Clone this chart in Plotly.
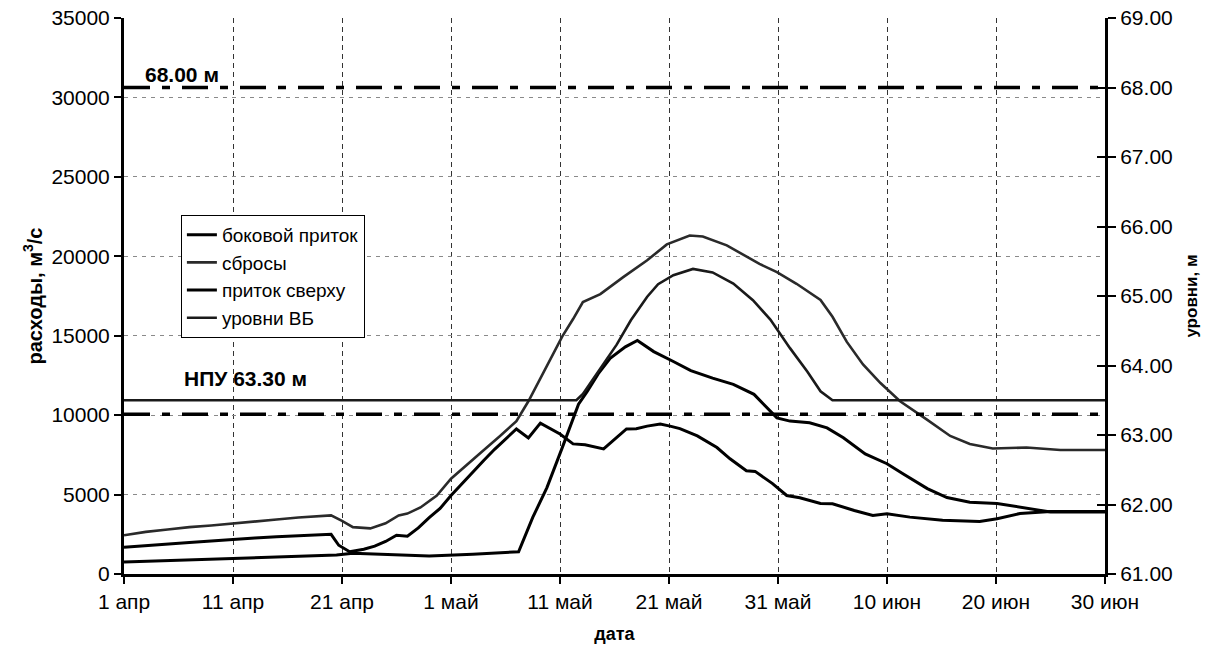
import pandas as pd
import plotly.graph_objects as go

# день от 1 апреля
start = pd.Timestamp("2010-04-01")

tick_days = [0, 10, 20, 30, 40, 50, 60, 70, 80, 90]
tick_text = ["1 апр", "11 апр", "21 апр", "1 май", "11 май", "21 май",
             "31 май", "10 июн", "20 июн", "30 июн"]

# боковой приток, м3/с
side_days = [0, 2, 4, 6, 8, 10, 12, 14, 16, 18, 19, 19.7, 20.7, 22, 23, 24, 25, 26, 27, 28,
             29, 30, 31, 32, 33, 34, 35, 36, 37.1, 38.2, 40, 41.2, 42.3, 44, 46.1, 47, 48, 49.2,
             50.1, 51, 52.6, 54.4, 55.6, 57.1, 57.9, 59.5, 60.8, 62, 63.9, 65, 67, 68.7, 70,
             72.1, 75.1, 78.5, 80.1, 82.2, 85, 90]
side_flow = [1690, 1800, 1900, 1980, 2080, 2190, 2270, 2350, 2420, 2480, 2500, 1810, 1400, 1560,
             1750, 2050, 2440, 2380, 2900, 3550, 4130, 4940, 5700, 6450, 7150, 7850, 8500, 9130,
             8560, 9500, 8810, 8190, 8130, 7870, 9130, 9150, 9310, 9440, 9310, 9150, 8690, 7960,
             7250, 6500, 6460, 5690, 4940, 4800, 4440, 4420, 4000, 3690, 3790, 3580, 3380, 3310,
             3480, 3810, 3940, 3940]

# сбросы, м3/с
dis_days = [0, 2, 4, 6, 8, 10, 12, 14, 16, 18, 19, 20, 21, 22.6, 24, 25.2, 26, 27.2, 28.7, 30,
            31.3, 32.7, 34.5, 36, 37.1, 38.5, 40.2, 41.2, 42.1, 43.7, 45.8, 48, 49.8, 51.9, 53.1,
            55.3, 57.2, 58.3, 59.9, 61.7, 63.9, 65, 66.3, 67.8, 69.4, 71.2, 73.6, 75.8, 77.6,
            79.7, 82.8, 85.9, 90]
dis_flow = [2440, 2650, 2800, 2950, 3050, 3190, 3300, 3430, 3560, 3660, 3690, 3350, 2950, 2870,
            3190, 3690, 3800, 4190, 4940, 6000, 6800, 7620, 8690, 9620, 10875, 12700, 14940,
            16050, 17120, 17620, 18690, 19750, 20750, 21310, 21250, 20690, 19940, 19520, 19000,
            18270, 17250, 16190, 14625, 13190, 12020, 10875, 9750, 8690, 8190, 7900, 7960, 7810,
            7810]

# приток сверху, м3/с
up_days = [0, 5, 10, 15, 19.5, 21, 23, 28, 32, 36.2, 37.5, 38.8, 40.2, 41.1, 41.7, 42.5, 43.5,
           44.6, 46, 47.1, 48.6, 50.4, 52, 54, 55.9, 57.8, 59, 59.9, 61.1, 62.9, 64.5, 66, 68,
           70, 71.5, 73.7, 75.5, 77.6, 80.1, 82.8, 85, 90]
up_flow = [750, 870, 1000, 1100, 1190, 1310, 1250, 1130, 1250, 1400, 3560, 5440, 7940, 9625,
           10690, 11500, 12600, 13580, 14300, 14700, 14000, 13375, 12800, 12330, 11940, 11310,
           10460, 9830, 9625, 9520, 9200, 8580, 7560, 6940, 6300, 5375, 4810, 4520, 4440, 4150,
           3900, 3900]

# уровни ВБ, м
lvl_days = [0, 41.5, 42.1, 43, 44, 45.2, 46.5, 48, 49, 50.4, 52.2, 54, 55.9, 57.7, 59.3, 61.1,
            62.7, 63.9, 65, 90]
lvl = [63.5, 63.5, 63.59, 63.8, 64.03, 64.3, 64.65, 64.99, 65.17, 65.3, 65.39, 65.34, 65.18,
       64.94, 64.66, 64.25, 63.91, 63.63, 63.5, 63.5]

# отметки
mark_levels = [68.00, 63.30]
mark_labels = ["68.00 м", "НПУ 63.30 м"]


def dates(days):
    return start + pd.to_timedelta(days, unit="D")


FONT = "Liberation Sans, Arial, sans-serif"

fig = go.Figure()

fig.add_trace(go.Scatter(x=dates(side_days), y=side_flow, mode="lines", name="боковой приток",
                         line=dict(color="black", width=3)))
fig.add_trace(go.Scatter(x=dates(dis_days), y=dis_flow, mode="lines", name="сбросы",
                         line=dict(color="#2a2a2a", width=2.6)))
fig.add_trace(go.Scatter(x=dates(up_days), y=up_flow, mode="lines", name="приток сверху",
                         line=dict(color="black", width=3)))
fig.add_trace(go.Scatter(x=dates(lvl_days), y=lvl, mode="lines", name="уровни ВБ",
                         yaxis="y2", line=dict(color="#1a1a1a", width=2.6)))

# пунктирные отметки 68.00 и НПУ
for lv in mark_levels:
    fig.add_trace(go.Scatter(x=dates([0, 90]), y=[lv, lv], mode="lines", yaxis="y3",
                             showlegend=False, hoverinfo="skip",
                             line=dict(color="black", width=3.5, dash="26px,12px,8px,12px")))

fig.add_annotation(x=0.019, xref="paper", y=mark_levels[0], yref="y2",
                   text="<b>" + mark_labels[0] + "</b>",
                   showarrow=False, xanchor="left", yanchor="bottom", yshift=0,
                   font=dict(size=21))
fig.add_annotation(x=0.059, xref="paper", y=mark_levels[1], yref="y2",
                   text="<b>" + mark_labels[1] + "</b>",
                   showarrow=False, xanchor="left", yanchor="bottom", yshift=22,
                   font=dict(size=21))

tick_dates = dates(tick_days)

fig.update_layout(
    width=1202, height=646,
    margin=dict(l=116, r=105, t=10, b=80),
    plot_bgcolor="white", paper_bgcolor="white",
    font=dict(family=FONT, size=21, color="black"),
    showlegend=True,
    legend=dict(x=0.058, y=0.646, xanchor="left", yanchor="top",
                bgcolor="white", bordercolor="black", borderwidth=1,
                font=dict(size=19), tracegroupgap=0, itemwidth=30),
    xaxis=dict(type="date", range=[tick_dates[0], tick_dates[-1]],
               tickmode="array", tickvals=tick_dates, ticktext=tick_text,
               ticks="outside", ticklen=7, tickwidth=2, tickcolor="black",
               showline=True, linewidth=3, linecolor="black",
               showgrid=True, gridcolor="#333", gridwidth=1, griddash="5px,4px",
               title=dict(text="<b>дата</b>", font=dict(size=18), standoff=16),
               zeroline=False, automargin=False),
    yaxis=dict(range=[0, 35000], dtick=5000, tickformat="d",
               ticks="outside", ticklen=7, tickwidth=2, tickcolor="black",
               showline=True, linewidth=3, linecolor="black",
               showgrid=True, gridcolor="#8a8a8a", gridwidth=1, griddash="4px,5px",
               zeroline=False, automargin=False, ticklabeloverflow="allow",
               title=dict(text="<b>расходы, м<sup>3</sup>/с</b>", font=dict(size=20), standoff=4)),
    yaxis2=dict(overlaying="y", side="right", range=[61, 69], dtick=1, tickformat=".2f",
                ticks="outside", ticklen=8, tickwidth=2, tickcolor="black",
                showline=True, linewidth=3, linecolor="black", showgrid=False, zeroline=False,
                automargin=False, ticklabeloverflow="allow",
                title=dict(text="<b>уровни, м</b>", font=dict(size=17), standoff=14)),
    yaxis3=dict(overlaying="y", side="right", range=[61, 69], dtick=1,
                ticks="inside", ticklen=8, tickwidth=2, tickcolor="black",
                showticklabels=False, showline=False, showgrid=False, zeroline=False,
                automargin=False),
)

fig.write_html("out.html")
